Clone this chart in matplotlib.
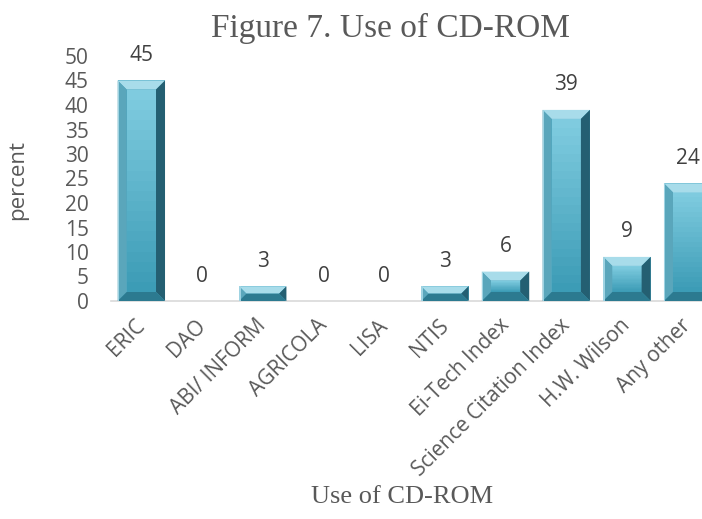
import numpy as np
import matplotlib
matplotlib.use("Agg")
import matplotlib.pyplot as plt
from matplotlib.patches import Polygon
from matplotlib.transforms import IdentityTransform, ScaledTranslation

# data
categories = ["ERIC", "DAO", "ABI/ INFORM", "AGRICOLA", "LISA", "NTIS",
              "Ei-Tech Index", "Science Citation Index", "H.W. Wilson", "Any other"]
values = [45, 0, 3, 0, 0, 3, 6, 39, 9, 24]
yticks = list(range(0, 55, 5))

plt.rcParams['font.family'] = ['Open Sans', 'DejaVu Sans']
txt_col = '#595959'

fig = plt.figure(figsize=(7.02, 5.19), dpi=100)
ax = fig.add_axes([111 / 702, 218 / 519, 607 / 702, 245 / 519])

x = np.arange(len(categories))
bars = ax.bar(x, values, width=0.78, color='#4aa9c3', edgecolor='none', zorder=2)
ax.set_xlim(-0.5, len(categories) - 0.5)
ax.set_ylim(0, 50)

for s in ['top', 'right', 'left']:
    ax.spines[s].set_visible(False)
ax.spines['bottom'].set_color('#d9d9d9')
ax.spines['bottom'].set_linewidth(1.2)

ax.set_yticks(yticks)
ax.set_yticklabels([str(t) for t in yticks], fontsize=15, color=txt_col)
ax.tick_params(axis='y', length=0, pad=16)
ax.set_xticks(x)
ax.set_xticklabels(categories, rotation=45, ha='right', va='top',
                   rotation_mode='anchor', fontsize=15, color=txt_col)
ax.tick_params(axis='x', length=0, pad=10)
shift = ScaledTranslation(-5 / 72, 0, fig.dpi_scale_trans)
for lab in ax.get_xticklabels():
    lab.set_transform(lab.get_transform() + shift)

# value labels
for xi, v in zip(x, values):
    ax.annotate(str(v), (xi, v), xytext=(0, 18), textcoords='offset points',
                ha='center', va='center', fontsize=15, color='#404040')

# bevel effect drawn in pixel space on top of each bar
fig.canvas.draw()
for b in bars:
    h = b.get_height()
    if h <= 0:
        continue
    (x0, y0), (x1, y1) = ax.transData.transform([(b.get_x(), 0),
                                                 (b.get_x() + b.get_width(), h)])
    d = min(9, (y1 - y0) / 2, (x1 - x0) / 2)
    ix0, ix1, iy0, iy1 = x0 + d, x1 - d, y0 + d, y1 - d
    # face gradient
    n = 20
    for k in range(n):
        t = k / (n - 1)
        c = np.array([0x7f, 0xcb, 0xdf]) * (1 - t) + np.array([0x3c, 0x9c, 0xb6]) * t
        ya = iy1 - (iy1 - iy0) * k / n
        yb = iy1 - (iy1 - iy0) * (k + 1) / n
        ax.add_patch(Polygon([(ix0, ya), (ix1, ya), (ix1, yb), (ix0, yb)],
                             closed=True, transform=IdentityTransform(),
                             facecolor=c / 255, edgecolor='none', zorder=3))
    faces = [
        ([(x0, y1), (x1, y1), (ix1, iy1), (ix0, iy1)], '#a8dcea'),  # top
        ([(x0, y0), (x0, y1), (ix0, iy1), (ix0, iy0)], '#5aa6bb'),  # left
        ([(x1, y0), (x1, y1), (ix1, iy1), (ix1, iy0)], '#245f72'),  # right
        ([(x0, y0), (x1, y0), (ix1, iy0), (ix0, iy0)], '#2c7a90'),  # bottom
    ]
    for pts, col in faces:
        ax.add_patch(Polygon(pts, closed=True, transform=IdentityTransform(),
                             facecolor=col, edgecolor='none', zorder=3))
    # thin highlight on left edge
    ax.add_patch(Polygon([(x0, y0), (x0 + 1.5, y0), (x0 + 1.5, y1), (x0, y1)],
                         closed=True, transform=IdentityTransform(),
                         facecolor='#9fd3e2', edgecolor='none', zorder=4))

fig.text(391 / 702, 1 - 28 / 519, "Figure 7. Use of CD-ROM", ha='center', va='center',
         fontsize=24, family='Liberation Serif', color=txt_col)
fig.text(402 / 702, 1 - 497 / 519, "Use of CD-ROM", ha='center', va='center',
         fontsize=19, family='Liberation Serif', color=txt_col)
fig.text(18 / 702, 1 - 180 / 519, "percent", ha='center', va='center', rotation=90,
         fontsize=16, color=txt_col)

fig.savefig('out.png', dpi=100)
